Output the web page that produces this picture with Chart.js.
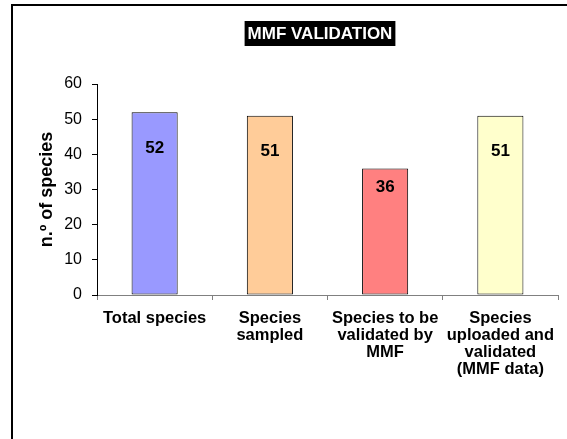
<!DOCTYPE html>
<html>
<head>
<meta charset="utf-8">
<script src="https://cdn.jsdelivr.net/npm/chart.js@4"></script>
<style>
  html, body { margin: 0; padding: 0; background: #fff; }
  #wrap { position: relative; width: 567px; height: 439px; overflow: hidden; }
  #frame { position: absolute; left: 11px; top: 4px; width: 600px; height: 500px; border: 2px solid #000; box-sizing: border-box; }
  canvas { position: absolute; left: 0; top: 0; }
</style>
</head>
<body>
<div id="wrap">
  <div id="frame"></div>
  <canvas id="myChart" width="567" height="439"></canvas>
</div>
<script>
// Data

const categories = [
  ['Total species'],
  ['Species', 'sampled'],
  ['Species to be', 'validated by', 'MMF'],
  ['Species', 'uploaded and', 'validated', '(MMF data)'],
];
const speciesCounts = [52, 51, 36, 51];
const yTicks = [0, 10, 20, 30, 40, 50, 60];

const barColors = ['#9999FF', '#FFCC99', '#FF8080', '#FFFFCC'];
const labelOffsets = [36, 36, 19, 36];
const font = "'Liberation Sans', Arial, sans-serif";

// Title box and value labels

const titleBox = {
  id: 'titleBox',
  afterDraw(chart) {
    const ctx = chart.ctx;
    const text = 'MMF VALIDATION';
    ctx.save();
    ctx.font = 'bold 17px ' + font;
    const w = ctx.measureText(text).width;
    const cx = 320, cy = 34;
    ctx.fillStyle = '#000';
    ctx.fillRect(cx - w / 2 - 3, cy - 13, w + 6, 25);
    ctx.fillStyle = '#fff';
    ctx.textAlign = 'center';
    ctx.textBaseline = 'middle';
    ctx.fillText(text, cx, cy);
    ctx.restore();
  }
};

const valueLabels = {
  id: 'valueLabels',
  afterDatasetsDraw(chart) {
    const ctx = chart.ctx;
    const meta = chart.getDatasetMeta(0);
    ctx.save();
    ctx.font = 'bold 17px ' + font;
    ctx.fillStyle = '#000';
    ctx.textAlign = 'center';
    ctx.textBaseline = 'middle';
    meta.data.forEach(function(bar, i) {
      ctx.fillText(String(speciesCounts[i]), bar.x, bar.y + labelOffsets[i]);
    });
    ctx.restore();
  }
};

// Chart

const ctx = document.getElementById('myChart').getContext('2d');

const chart = new Chart(ctx, {
  type: 'bar',
  data: {
    labels: categories,
    datasets: [{
      data: speciesCounts,
      backgroundColor: barColors,
      borderColor: '#000',
      borderWidth: 1,
      borderSkipped: false,
      barPercentage: 0.4,
      categoryPercentage: 1,
    }]
  },
  options: {
    responsive: false,
    animation: false,
    devicePixelRatio: 1,
    layout: { padding: { left: 32, top: 84, right: 9, bottom: 0 } },
    plugins: {
      legend: { display: false },
      title: { display: false },
      tooltip: { enabled: false },
    },
    scales: {
      x: {
        offset: true,
        afterFit: function(scale) { scale.height = 144; },
        border: { color: '#808080', width: 1 },
        grid: {
          offset: true,
          drawOnChartArea: false,
          tickLength: 5,
          color: '#808080',
        },
        ticks: {
          color: '#000',
          padding: 10,
          maxRotation: 0,
          autoSkip: false,
          font: { family: font, size: 16.5, weight: 'bold', lineHeight: '17px' },
        },
      },
      y: {
        min: 0,
        max: 60,
        afterFit: function(scale) { scale.width = 65; },
        afterBuildTicks: function(scale) {
          scale.ticks = yTicks.map(function(v) { return { value: v }; });
        },
        border: { color: '#000', width: 1 },
        grid: {
          drawOnChartArea: false,
          tickLength: 5,
          color: '#000',
        },
        ticks: {
          color: '#000',
          padding: 10,
          font: { family: font, size: 16 },
        },
        title: {
          display: true,
          text: 'n.º of species',
          color: '#000',
          padding: { top: 4, bottom: 4 },
          font: { family: font, size: 18, weight: 'bold' },
        },
      },
    },
  },
  plugins: [titleBox, valueLabels],
});
</script>
</body>
</html>
